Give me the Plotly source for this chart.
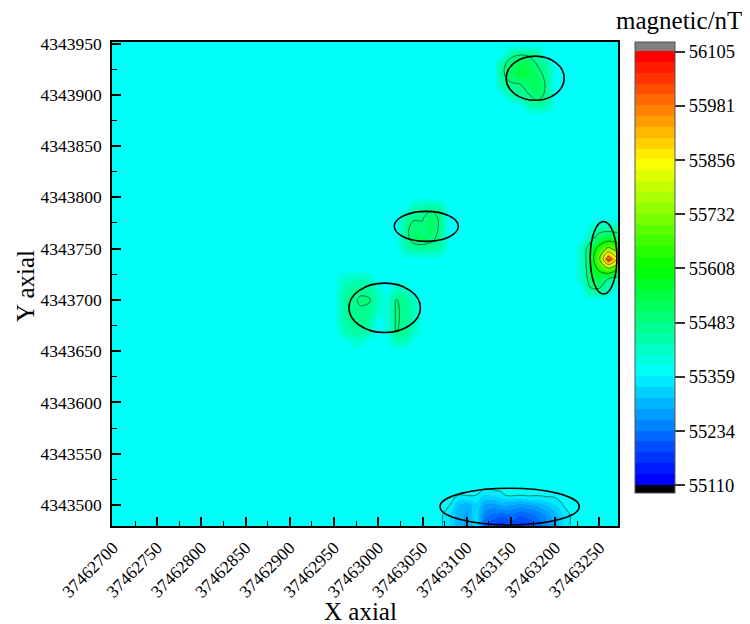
import numpy as np
import plotly.graph_objects as go

# ---------------- data ----------------
grid_x = list(range(37462700, 37463271, 10))      # easting of grid nodes
grid_y = list(range(4343480, 4343951, 10))        # northing of grid nodes
background_nt = 55370                             # quiet field level

# anomaly 1 (top, green)
top_x = [37463150, 37463160, 37463170, 37463180,
         37463140, 37463150, 37463160, 37463170, 37463180, 37463190,
         37463140, 37463150, 37463160, 37463170, 37463180, 37463190,
         37463140, 37463150, 37463160, 37463170, 37463180, 37463190,
         37463150, 37463160, 37463170, 37463180, 37463190,
         37463170, 37463180, 37463190]
top_y = [4343940, 4343940, 4343940, 4343940,
         4343930, 4343930, 4343930, 4343930, 4343930, 4343930,
         4343920, 4343920, 4343920, 4343920, 4343920, 4343920,
         4343910, 4343910, 4343910, 4343910, 4343910, 4343910,
         4343900, 4343900, 4343900, 4343900, 4343900,
         4343890, 4343890, 4343890]
top_nt = [55465, 55475, 55470, 55450,
          55465, 55510, 55535, 55525, 55478, 55450,
          55470, 55520, 55545, 55540, 55505, 55465,
          55445, 55472, 55480, 55515, 55525, 55475,
          55440, 55460, 55480, 55510, 55470,
          55445, 55460, 55440]

# anomaly 2 (middle, green)
mid_x = [37463040, 37463050, 37463060, 37463070,
         37463030, 37463040, 37463050, 37463060, 37463070,
         37463030, 37463040, 37463050, 37463060, 37463070,
         37463030, 37463040, 37463050, 37463060, 37463070,
         37463030, 37463040, 37463050, 37463060, 37463070]
mid_y = [4343790, 4343790, 4343790, 4343790,
         4343780, 4343780, 4343780, 4343780, 4343780,
         4343770, 4343770, 4343770, 4343770, 4343770,
         4343760, 4343760, 4343760, 4343760, 4343760,
         4343750, 4343750, 4343750, 4343750, 4343750]
mid_nt = [55440, 55455, 55465, 55445,
          55455, 55475, 55480, 55515, 55470,
          55462, 55505, 55490, 55520, 55472,
          55455, 55510, 55515, 55500, 55462,
          55430, 55455, 55462, 55455, 55435]

# anomaly 3 (left, green with narrow ridge)
left_x = [37462960, 37462970, 37462980, 37462990,
          37462960, 37462970, 37462980, 37462990, 37463000,
          37462960, 37462970, 37462980, 37462990, 37463000,
          37462960, 37462970, 37462980, 37462990, 37463000,
          37462960, 37462970, 37462980, 37462990,
          37462960, 37462970, 37462980, 37462990,
          37462970, 37462980,
          37463010, 37463010, 37463010, 37463010,
          37463020, 37463020, 37463020, 37463020, 37463020, 37463020,
          37463030, 37463030, 37463030, 37463030, 37463030, 37463030,
          37463040, 37463040, 37463040, 37463040]
left_y = [4343720, 4343720, 4343720, 4343720,
          4343710, 4343710, 4343710, 4343710, 4343710,
          4343700, 4343700, 4343700, 4343700, 4343700,
          4343690, 4343690, 4343690, 4343690, 4343690,
          4343680, 4343680, 4343680, 4343680,
          4343670, 4343670, 4343670, 4343670,
          4343660, 4343660,
          4343700, 4343690, 4343680, 4343670,
          4343710, 4343700, 4343690, 4343680, 4343670, 4343660,
          4343710, 4343700, 4343690, 4343680, 4343670, 4343660,
          4343700, 4343690, 4343680, 4343670]
left_nt = [55410, 55428, 55432, 55415,
           55440, 55465, 55472, 55462, 55415,
           55450, 55472, 55490, 55489, 55420,
           55450, 55475, 55478, 55468, 55415,
           55445, 55470, 55474, 55458,
           55428, 55455, 55455, 55438,
           55405, 55405,
           55395, 55395, 55395, 55395,
           55435, 55486, 55490, 55490, 55486, 55435,
           55425, 55468, 55472, 55472, 55468, 55430,
           55420, 55428, 55428, 55420]

# anomaly 4 (right edge, strong positive peak)
right_x = [37463240, 37463250, 37463260, 37463270,
           37463240, 37463250, 37463260, 37463270,
           37463230, 37463240, 37463250, 37463260, 37463270,
           37463230, 37463240, 37463250, 37463260, 37463270,
           37463230, 37463240, 37463250, 37463260, 37463270,
           37463230, 37463240, 37463250, 37463260, 37463270,
           37463240, 37463250, 37463260]
right_y = [4343770, 4343770, 4343770, 4343770,
           4343760, 4343760, 4343760, 4343760,
           4343750, 4343750, 4343750, 4343750, 4343750,
           4343740, 4343740, 4343740, 4343740, 4343740,
           4343730, 4343730, 4343730, 4343730, 4343730,
           4343720, 4343720, 4343720, 4343720, 4343720,
           4343710, 4343710, 4343710]
right_nt = [55410, 55440, 55450, 55440,
            55450, 55530, 55550, 55540,
            55420, 55540, 55650, 55760, 55690,
            55425, 55550, 55720, 56050, 55850,
            55420, 55540, 55630, 55700, 55630,
            55415, 55520, 55530, 55475, 55430,
            55475, 55475, 55420]

# anomaly 5 (bottom, negative)
bot_x = [37463120, 37463130,
         37463090, 37463100, 37463110, 37463120, 37463130, 37463140, 37463160, 37463180,
         37463080, 37463090, 37463100, 37463110, 37463120, 37463130, 37463140, 37463150,
         37463160, 37463170, 37463180, 37463190, 37463200, 37463210,
         37463070, 37463080, 37463090, 37463100, 37463110, 37463120, 37463130, 37463140,
         37463150, 37463160, 37463170, 37463180, 37463190, 37463200, 37463210, 37463220,
         37463070, 37463080, 37463090, 37463100, 37463110, 37463120, 37463130, 37463140,
         37463150, 37463160, 37463170, 37463180, 37463190, 37463200, 37463210, 37463220]
bot_y = [4343520, 4343520,
         4343510, 4343510, 4343510, 4343510, 4343510, 4343510, 4343510, 4343510,
         4343500, 4343500, 4343500, 4343500, 4343500, 4343500, 4343500, 4343500,
         4343500, 4343500, 4343500, 4343500, 4343500, 4343500,
         4343490, 4343490, 4343490, 4343490, 4343490, 4343490, 4343490, 4343490,
         4343490, 4343490, 4343490, 4343490, 4343490, 4343490, 4343490, 4343490,
         4343480, 4343480, 4343480, 4343480, 4343480, 4343480, 4343480, 4343480,
         4343480, 4343480, 4343480, 4343480, 4343480, 4343480, 4343480, 4343480]
bot_nt = [55380, 55385,
          55362, 55365, 55362, 55330, 55335, 55355, 55362, 55365,
          55362, 55305, 55290, 55330, 55280, 55270, 55290, 55280,
          55270, 55280, 55290, 55310, 55330, 55362,
          55368, 55335, 55290, 55280, 55340, 55245, 55225, 55215,
          55230, 55210, 55220, 55240, 55265, 55300, 55340, 55368,
          55368, 55335, 55290, 55280, 55345, 55215, 55180, 55170,
          55190, 55175, 55190, 55220, 55255, 55290, 55340, 55368]

# circled anomaly zones: centre x, centre y, half-width, half-height (map units)
ring_cx = [37463177.4, 37463054.3, 37463007.2, 37463254.7, 37463148.5]
ring_cy = [4343916.2, 4343771.7, 4343692.3, 4343741.1, 4343498.4]
ring_rx = [32.8, 36.2, 40.4, 15.1, 78.7]
ring_ry = [21.5, 14.6, 24.1, 35.4, 17.9]

cb_ticks = [55110, 55234, 55359, 55483, 55608, 55732, 55856, 55981, 56105]

# ---------------- build grid ----------------
z = np.full((len(grid_y), len(grid_x)), float(background_nt))
for xs, ys, vs in [(top_x, top_y, top_nt), (mid_x, mid_y, mid_nt), (left_x, left_y, left_nt),
                   (right_x, right_y, right_nt), (bot_x, bot_y, bot_nt)]:
    for xv, yv, v in zip(xs, ys, vs):
        z[grid_y.index(yv), grid_x.index(xv)] = v

# ---------------- colour scale (banded jet with grey/black caps) ----------------
lo_v, hi_v = cb_ticks[0], cb_ticks[-1]
cmin, cmax = lo_v - 19.0, hi_v + 20.7
nb = 40
edges = [lo_v + i * (hi_v - lo_v) / nb for i in range(nb + 1)]


def frac(v):
    return (v - cmin) / (cmax - cmin)


def jet(t):
    stops = [(0.0, (0, 0, 255)), (0.25, (0, 255, 255)), (0.5, (0, 255, 0)),
             (0.75, (255, 255, 0)), (1.0, (255, 0, 0))]
    for (t0, c0), (t1, c1) in zip(stops[:-1], stops[1:]):
        if t <= t1:
            f = (t - t0) / (t1 - t0)
            return "rgb(%d,%d,%d)" % tuple(round(a + (b - a) * f) for a, b in zip(c0, c1))
    return "rgb(255,0,0)"


scale = [[0.0, "rgb(0,0,0)"], [frac(edges[0]), "rgb(0,0,0)"]]
for i in range(nb):
    c = jet(i / (nb - 1))
    scale.append([frac(edges[i]), c])
    scale.append([frac(edges[i + 1]), c])
scale.append([frac(edges[-1]), "rgb(128,128,128)"])
scale.append([1.0, "rgb(128,128,128)"])

# ---------------- layout geometry (page body has an 8 px margin) ----------------
FONT = "Liberation Serif"
OFF = 8
W, H = 750 - OFF, 624 - OFF
ML, MT = 112 - OFF, 42 - OFF
MR = W - (618 - OFF)
MB = H - (526 - OFF)
pw = W - ML - MR
ph = H - MT - MB


def px2paper_x(px):          # px measured in the 750x624 window
    return (px - OFF - ML) / pw


def px2paper_y(py):
    return 1 - (py - OFF - MT) / ph


fig = go.Figure()
fig.add_trace(go.Heatmap(
    x=grid_x, y=grid_y, z=z, zsmooth="best", colorscale=scale, zmin=cmin, zmax=cmax,
    hoverinfo="skip",
    colorbar=dict(
        x=px2paper_x(635), xanchor="left", xpad=0,
        y=px2paper_y(42.5), yanchor="top", ypad=0,
        len=451, lenmode="pixels", thickness=40, thicknessmode="pixels",
        outlinewidth=1, outlinecolor="#555",
        tickvals=cb_ticks, ticktext=[str(t) for t in cb_ticks],
        ticks="outside", ticklen=10, tickwidth=1.5, tickcolor="#333",
        tickfont=dict(family=FONT, size=18.5, color="black"),
    ),
))
fig.add_trace(go.Contour(
    x=grid_x, y=grid_y, z=z, showscale=False, hoverinfo="skip",
    contours=dict(coloring="none", start=55358.75, end=55980.625, size=124.375),
    line=dict(color="rgba(25,45,25,0.8)", width=0.8),
))

for cx, cy, rx, ry in zip(ring_cx, ring_cy, ring_rx, ring_ry):
    fig.add_shape(type="circle", xref="x", yref="y", x0=cx - rx, x1=cx + rx, y0=cy - ry, y1=cy + ry,
                  line=dict(color="black", width=1.6))

axis_common = dict(
    showgrid=False, zeroline=False, showline=True, linecolor="black", linewidth=1.5, mirror=True,
    ticks="inside", ticklen=9, tickwidth=1.5, tickcolor="black", tickformat="d",
    tickfont=dict(family=FONT, size=17.5, color="black"), automargin=False,
    minor=dict(ticks="inside", ticklen=5, tickwidth=1.2, tickcolor="black", dtick=25),
)
fig.update_xaxes(range=[37462699, 37463271], tick0=37462700, dtick=50, tickangle=-45,
                 ticklabelstandoff=3, **axis_common)
fig.update_yaxes(range=[4343479.5, 4343951.5], tick0=4343500, dtick=50,
                 ticklabelstandoff=5, **axis_common)

fig.add_annotation(text="magnetic/nT", xref="paper", yref="paper", x=px2paper_x(614), xanchor="left",
                   y=px2paper_y(20), yanchor="middle", showarrow=False,
                   font=dict(family=FONT, size=25, color="black"))
fig.add_annotation(text="Y axial", xref="paper", yref="paper", x=px2paper_x(25), xanchor="center",
                   y=px2paper_y(286), yanchor="middle", textangle=-90, showarrow=False,
                   font=dict(family=FONT, size=25, color="black"))
fig.add_annotation(text="X axial", xref="paper", yref="paper", x=px2paper_x(360), xanchor="center",
                   y=px2paper_y(611), yanchor="middle", showarrow=False,
                   font=dict(family=FONT, size=25, color="black"))

fig.update_layout(
    width=W, height=H, margin=dict(l=ML, r=MR, t=MT, b=MB, autoexpand=False),
    paper_bgcolor="white", plot_bgcolor="white", showlegend=False, template="none",
    font=dict(family=FONT, size=17.5, color="black"),
)
fig.write_html("out.html")
